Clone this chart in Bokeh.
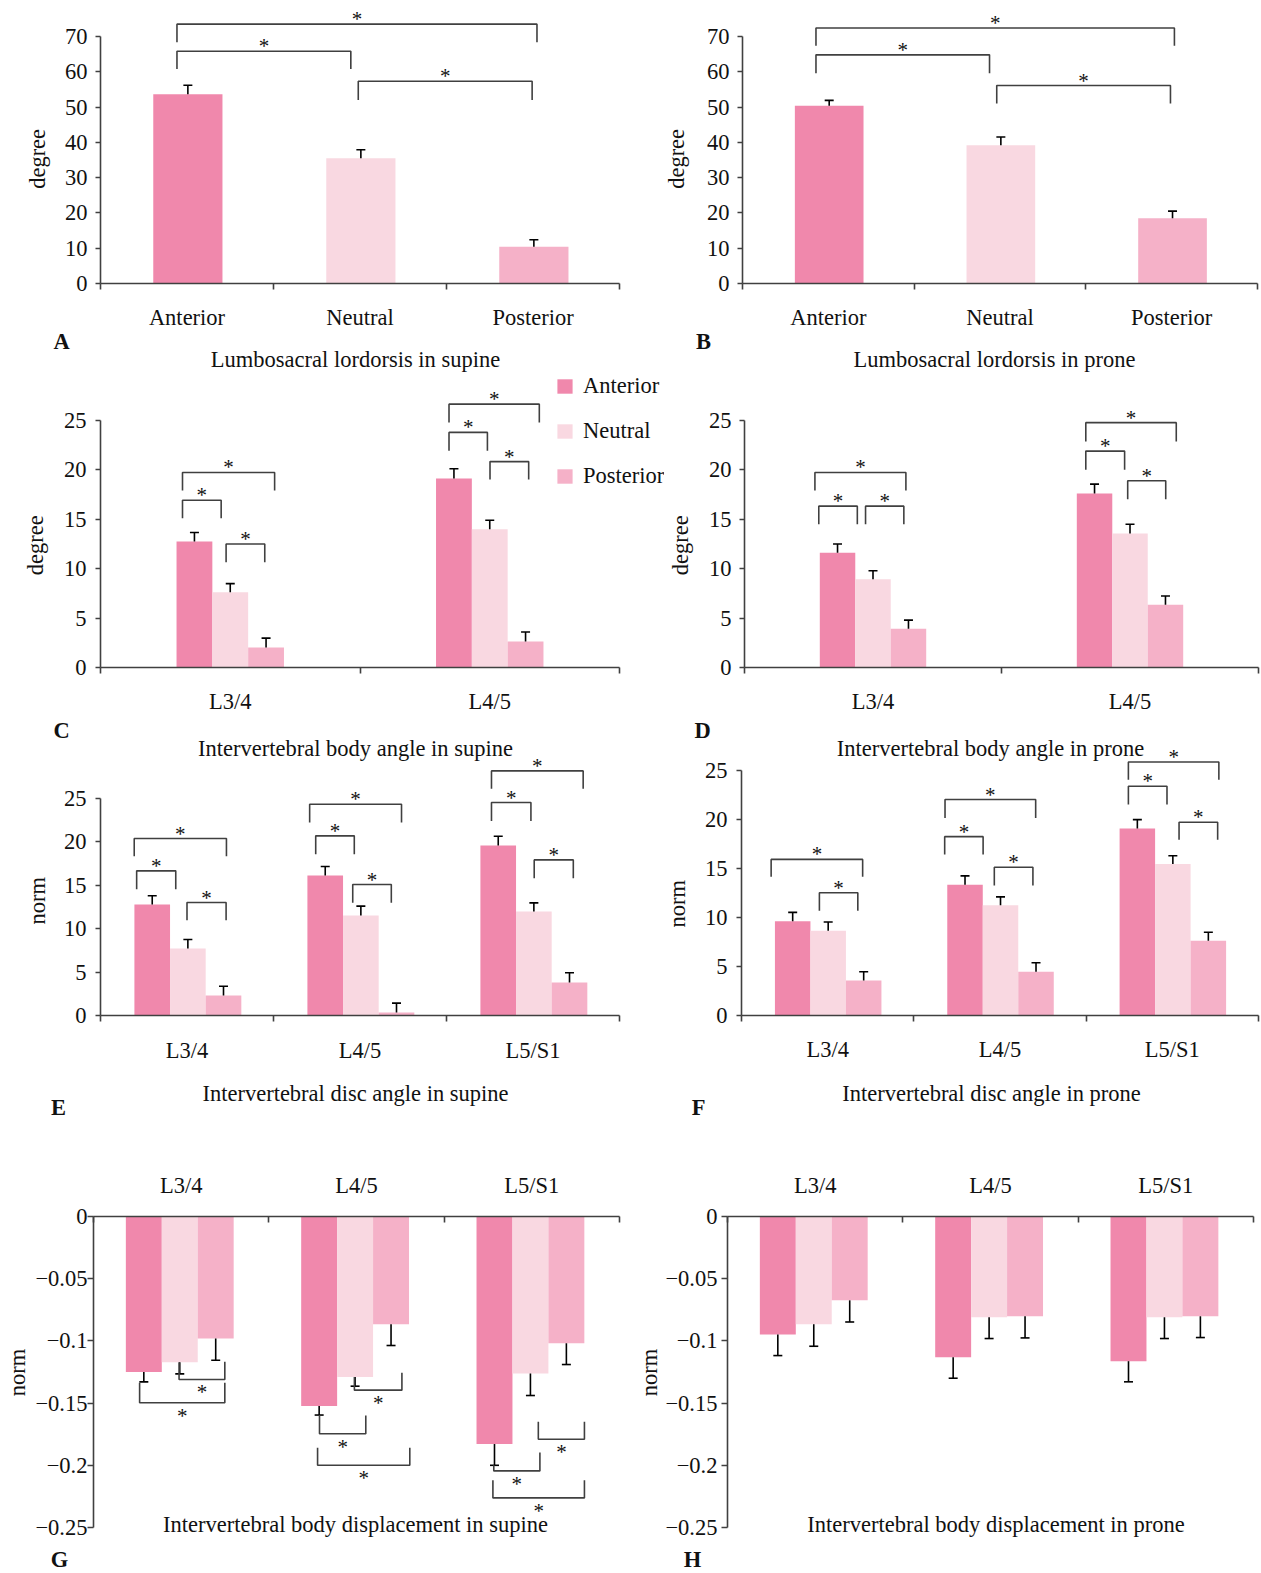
from bokeh.plotting import figure
from bokeh.models import Range1d, FixedTicker, Label, Legend, LegendItem
from bokeh.layouts import column, row
from bokeh.embed import file_html
from bokeh.resources import INLINE
from bokeh.core.properties import value

FONT = "Liberation Serif"
FS = "22.5px"
AXC = "#404040"
TXT = "#111111"
SERIES = ["Anterior", "Neutral", "Posterior"]
COLORS = ["#F088AC", "#F9D8E1", "#F5B1C8"]
NB = "\u00a0"

# ---------------- data ----------------
# significance brackets: (x_left, x_right, y_bar, y_left_end, y_right_end) in axis units
A_cats = ["Anterior", "Neutral", "Posterior"]
A_mean = [53.6, 35.5, 10.4]
A_sd = [2.6, 2.4, 2.0]
A_sig = [(0.442, 2.523, 73.5, 68.4, 68.4), (0.442, 1.447, 65.8, 60.8, 60.8),
         (1.49, 2.495, 57.3, 52.0, 52.0)]

B_cats = ["Anterior", "Neutral", "Posterior"]
B_mean = [50.4, 39.2, 18.5]
B_sd = [1.5, 2.3, 2.0]
B_sig = [(0.428, 2.516, 72.4, 67.4, 67.4), (0.428, 1.439, 64.8, 59.6, 59.6),
         (1.481, 2.493, 56.1, 51.0, 51.0)]

C_cats = ["L3/4", "L4/5"]
C_ant, C_ant_sd = [12.72, 19.1], [0.91, 0.97]
C_neu, C_neu_sd = [7.59, 13.97], [0.88, 0.91]
C_pos, C_pos_sd = [2.02, 2.63], [0.95, 0.95]
C_sig = [(0.316, 0.671, 19.7, 17.88, 17.88), (0.316, 0.465, 16.9, 15.08, 15.08),
         (0.484, 0.633, 12.48, 10.63, 10.63), (1.343, 1.691, 26.6, 24.76, 24.76),
         (1.343, 1.491, 23.75, 21.9, 21.9), (1.501, 1.65, 20.8, 19.0, 19.0)]

D_cats = ["L3/4", "L4/5"]
D_ant, D_ant_sd = [11.6, 17.58], [0.88, 0.94]
D_neu, D_neu_sd = [8.91, 13.53], [0.87, 0.94]
D_pos, D_pos_sd = [3.91, 6.34], [0.88, 0.88]
D_sig = [(0.274, 0.628, 19.7, 17.88, 17.88), (0.289, 0.439, 16.3, 14.47, 14.47),
         (0.471, 0.62, 16.3, 14.47, 14.47), (1.328, 1.68, 24.73, 22.84, 22.84),
         (1.328, 1.479, 21.86, 19.97, 19.97), (1.491, 1.639, 18.86, 17.0, 17.0)]

E_cats = ["L3/4", "L4/5", "L5/S1"]
E_ant, E_ant_sd = [12.77, 16.1, 19.56], [1.0, 1.04, 1.07]
E_neu, E_neu_sd = [7.71, 11.5, 11.96], [1.03, 1.08, 1.0]
E_pos, E_pos_sd = [2.30, 0.35, 3.8], [1.07, 1.07, 1.11]
E_sig = [(0.195, 0.728, 20.36, 18.33, 18.33), (0.209, 0.435, 16.64, 14.53, 14.53),
         (0.5, 0.726, 13.0, 10.97, 10.97), (1.209, 1.74, 24.31, 22.2, 22.2),
         (1.244, 1.467, 20.67, 18.56, 18.56), (1.458, 1.681, 15.07, 12.96, 12.96),
         (2.26, 2.79, 28.14, 26.1, 26.1), (2.26, 2.488, 24.5, 22.39, 22.39),
         (2.507, 2.733, 17.9, 15.8, 15.8)]

F_cats = ["L3/4", "L4/5", "L5/S1"]
F_ant, F_ant_sd = [9.61, 13.34, 19.09], [0.91, 0.91, 0.9]
F_neu, F_neu_sd = [8.64, 11.26, 15.46], [0.9, 0.84, 0.84]
F_pos, F_pos_sd = [3.56, 4.47, 7.63], [0.91, 0.91, 0.87]
F_sig = [(0.172, 0.703, 15.93, 14.15, 14.15), (0.452, 0.675, 12.53, 10.69, 10.69),
         (1.181, 1.707, 22.04, 20.16, 20.16), (1.179, 1.402, 18.25, 16.43, 16.43),
         (1.467, 1.691, 15.12, 13.27, 13.27), (2.245, 2.77, 25.87, 24.06, 24.06),
         (2.245, 2.469, 23.39, 21.54, 21.54), (2.539, 2.763, 19.72, 17.94, 17.94)]

G_cats = ["L3/4", "L4/5", "L5/S1"]
G_ant, G_ant_sd = [-0.1251, -0.1524, -0.1829], [0.0078, 0.0072, 0.0171]
G_neu, G_neu_sd = [-0.1171, -0.1291, -0.1262], [0.0094, 0.0073, 0.0177]
G_pos, G_pos_sd = [-0.0981, -0.0866, -0.1019], [0.0174, 0.0171, 0.0171]
G_sig = [(0.488, 0.749, -0.131, -0.1171, -0.1168), (0.263, 0.749, -0.1497, -0.1337, -0.1337),
         (1.488, 1.759, -0.1396, -0.1291, -0.1257), (1.289, 1.553, -0.1746, -0.1596, -0.16),
         (1.278, 1.804, -0.2, -0.1858, -0.1858), (2.537, 2.8, -0.1791, -0.165, -0.165),
         (2.283, 2.546, -0.2045, -0.2, -0.1898), (2.278, 2.8, -0.2262, -0.212, -0.212)]

H_cats = ["L3/4", "L4/5", "L5/S1"]
H_ant, H_ant_sd = [-0.0949, -0.1131, -0.1163], [0.0169, 0.0169, 0.0166]
H_neu, H_neu_sd = [-0.0866, -0.081, -0.081], [0.0177, 0.0171, 0.0171]
H_pos, H_pos_sd = [-0.0674, -0.0802, -0.0802], [0.0174, 0.0174, 0.0171]
H_sig = []

deg_ticks_70 = [0, 10, 20, 30, 40, 50, 60, 70]
deg_ticks_25 = [0, 5, 10, 15, 20, 25]
disp_ticks = [0, -0.05, -0.1, -0.15, -0.2, -0.25]
disp_labels = ["0", "\u22120.05", "\u22120.1", "\u22120.15", "\u22120.2", "\u22120.25"]

TITLES = {
    "A": "Lumbosacral lordorsis in supine", "B": "Lumbosacral lordorsis in prone",
    "C": "Intervertebral body angle in supine", "D": "Intervertebral body angle in prone",
    "E": "Intervertebral disc angle in supine", "F": "Intervertebral disc angle in prone",
    "G": "Intervertebral body displacement in supine", "H": "Intervertebral body displacement in prone",
}


def clean(p):
    p.outline_line_color = None
    p.xgrid.visible = False
    p.ygrid.visible = False


def build(canvas, frame, axx, yref, cats, yticks, ylabels, ylabel, series, sds, sig,
          bar_w, center=0.5, single=False, top_axis=False, s1=8, s2=14,
          tick_out=5, xstand=15, inverted=False):
    cl, ct, cr, cb = canvas
    fl, ft, fr, fb = frame
    al, ar = axx
    (v0, p0), (v1, p1) = yref
    k = (p1 - p0) / (v1 - v0)
    n = len(cats)

    def yv(py):
        return v0 + (py - p0) / k

    def xv(px):
        return (px - al) / (ar - al) * n

    p = figure(width=cr - cl, height=cb - ct, x_range=Range1d(xv(fl), xv(fr)),
               y_range=Range1d(yv(fb), yv(ft)),
               min_border_left=fl - cl, min_border_right=cr - fr,
               min_border_top=ft - ct, min_border_bottom=cb - fb,
               output_backend="svg", toolbar_location=None, tools="", title=None,
               x_axis_location="above" if top_axis else "below")
    clean(p)

    renderers = []
    if single:
        xs = [i + center for i in range(n)]
        p.vbar(x=xs, top=series, bottom=0, width=bar_w, fill_color=COLORS[:n], line_color=None)
        ends = [m + s for m, s in zip(series, sds)]
        p.segment(x0=xs, y0=series, x1=xs, y1=ends, line_color="black", line_width=1.6)
        p.scatter(x=xs, y=ends, marker="dash", size=9, line_color="black", line_width=1.6)
    else:
        for j, (vals, sd) in enumerate(zip(series, sds)):
            xs = [i + center + (j - 1) * bar_w for i in range(n)]
            r = p.vbar(x=xs, top=vals, bottom=0, width=bar_w, fill_color=COLORS[j], line_color=None)
            renderers.append(r)
            ends = [m + s if m >= 0 else m - s for m, s in zip(vals, sd)]
            p.segment(x0=xs, y0=vals, x1=xs, y1=ends, line_color="black", line_width=1.6)
            p.scatter(x=xs, y=ends, marker="dash", size=9, line_color="black", line_width=1.6)

    if sig:
        p.multi_line(xs=[[a, a, b, b] for a, b, _, _, _ in sig],
                     ys=[[yl, yb, yb, yr] for _, _, yb, yl, yr in sig],
                     line_color=AXC, line_width=1.6)
        p.text(x=[(a + b) / 2 for a, b, _, _, _ in sig], y=[s[2] for s in sig],
               text=["*"] * len(sig), text_font=value(FONT), text_font_size=value("21px"),
               text_align="center", text_baseline="middle",
               y_offset=13 if inverted else -5, text_color=TXT)

    xa = p.xaxis[0]
    ya = p.yaxis[0]
    for ax in (xa, ya):
        ax.axis_line_color = AXC
        ax.axis_line_width = 1.6
        ax.major_tick_line_color = AXC
        ax.major_tick_line_width = 1.6
        ax.minor_tick_line_color = AXC
        ax.minor_tick_line_width = 1.6
        ax.major_label_text_font = FONT
        ax.major_label_text_font_size = FS
        ax.major_label_text_color = TXT
        ax.axis_label_text_font = FONT
        ax.axis_label_text_font_size = FS
        ax.axis_label_text_font_style = "normal"
        ax.axis_label_text_color = TXT
    xa.ticker = FixedTicker(ticks=[i + 0.5 for i in range(n)], minor_ticks=list(range(n + 1)))
    xa.major_label_overrides = {i + 0.5: c for i, c in enumerate(cats)}
    xa.bounds = (0, n)
    xa.major_tick_out = 0
    xa.major_tick_in = 0
    if top_axis:
        xa.minor_tick_in = 6
        xa.minor_tick_out = 0
    else:
        xa.minor_tick_out = 6
        xa.minor_tick_in = 0
    xa.major_label_standoff = xstand

    ya.ticker = FixedTicker(ticks=yticks)
    ya.major_label_overrides = {t: l for t, l in zip(yticks, ylabels)}
    ya.bounds = (min(yticks), max(yticks))
    ya.major_tick_out = tick_out
    ya.major_tick_in = 0
    ya.minor_tick_out = 0
    ya.minor_tick_in = 0
    ya.axis_label = ylabel
    ya.major_label_standoff = s1
    ya.axis_label_standoff = s2
    return p, xv, yv, renderers


def make_label(x, y, text, bold=False):
    return Label(x=x, y=y, text=text, text_align="center", text_baseline="middle",
                 text_font=FONT, text_font_size=FS,
                 text_font_style="bold" if bold else "normal", text_color=TXT)


def put(panel, px, py, text, bold=False, place="center"):
    panel[0].add_layout(make_label(panel[1](px), panel[2](py), text, bold), place)


def strip(top, bottom, items, width=1260):
    p = figure(width=width, height=bottom - top, x_range=Range1d(0, width),
               y_range=Range1d(bottom, top), min_border_left=0, min_border_right=0,
               min_border_top=0, min_border_bottom=0, x_axis_location=None,
               y_axis_location=None, output_backend="svg", toolbar_location=None,
               tools="", title=None)
    clean(p)
    for px, py, text, bold in items:
        p.add_layout(make_label(px, py, text, bold))
    return p


W = 1260
A = build((0, 0, 636, 372), (100, 0, 636, 283), (100, 619), ((0, 283), (70, 36)), A_cats,
          deg_ticks_70, [str(t) for t in deg_ticks_70], "degree" + NB * 6, A_mean, A_sd, A_sig,
          0.4, center=0.505, single=True, s1=8, s2=12, xstand=15)
B = build((636, 0, W, 372), (742, 0, W, 283), (742, 1257), ((0, 283), (70, 36)), B_cats,
          deg_ticks_70, [str(t) for t in deg_ticks_70], "degree" + NB * 6, B_mean, B_sd, B_sig,
          0.4, center=0.505, single=True, s1=8, s2=15, xstand=15)
C = build((0, 372, 664, 716), (100, 372, 664, 667), (100, 619), ((0, 667), (25, 419.5)), C_cats,
          deg_ticks_25, [str(t) for t in deg_ticks_25], "degree" + NB * 9,
          [C_ant, C_neu, C_pos], [C_ant_sd, C_neu_sd, C_pos_sd], C_sig, 0.138,
          s1=9, s2=13, xstand=15)
D = build((664, 372, W, 716), (741, 372, W, 667), (741, 1258), ((0, 667), (25, 419.5)), D_cats,
          deg_ticks_25, [str(t) for t in deg_ticks_25], "degree" + NB * 9,
          [D_ant, D_neu, D_pos], [D_ant_sd, D_neu_sd, D_pos_sd], D_sig, 0.138,
          s1=8, s2=13, xstand=15)
E = build((0, 716, 636, 1068), (100, 735, 636, 1015), (100, 619), ((0, 1015), (25, 797.7)), E_cats,
          deg_ticks_25, [str(t) for t in deg_ticks_25], "norm" + NB * 9,
          [E_ant, E_neu, E_pos], [E_ant_sd, E_neu_sd, E_pos_sd], E_sig, 0.206,
          center=0.505, s1=9, s2=11, xstand=16)
F = build((636, 716, W, 1068), (741, 735, W, 1019), (741, 1258), ((0, 1019), (25, 770.5)), F_cats,
          deg_ticks_25, [str(t) for t in deg_ticks_25], "norm" + NB * 10,
          [F_ant, F_neu, F_pos], [F_ant_sd, F_neu_sd, F_pos_sd], F_sig, 0.206,
          center=0.503, s1=9, s2=12, xstand=15)
G = build((0, 1168, 634, 1545), (93, 1216, 634, 1545), (93, 619), ((0, 1216), (-0.25, 1527)), G_cats,
          disp_ticks, disp_labels, NB * 3 + "norm",
          [G_ant, G_neu, G_pos], [G_ant_sd, G_neu_sd, G_pos_sd], G_sig, 0.205,
          center=0.492, top_axis=True, s1=0, s2=2, tick_out=6, xstand=19, inverted=True)
H = build((634, 1168, W, 1545), (726, 1216, W, 1545), (726, 1253), ((0, 1216), (-0.25, 1527)), H_cats,
          disp_ticks, disp_labels, NB * 3 + "norm",
          [H_ant, H_neu, H_pos], [H_ant_sd, H_neu_sd, H_pos_sd], H_sig, 0.205,
          center=0.492, top_axis=True, s1=4, s2=0, tick_out=6, xstand=19, inverted=True)

# legend (inside panel C's frame)
C[0].add_layout(Legend(items=[LegendItem(label=SERIES[j], renderers=[C[3][j]]) for j in range(3)],
                       location=(455, 178), orientation="vertical", padding=0, margin=0,
                       spacing=19, glyph_width=19, glyph_height=18, label_height=25,
                       label_standoff=9, border_line_color=None, background_fill_alpha=0,
                       label_text_font=FONT, label_text_font_size=FS, label_text_color=TXT))

# panel letters and titles
put(A, 61, 340.5, "A", bold=True, place="left")
put(A, 355, 358.6, TITLES["A"], place="below")
put(B, 703, 340.5, "B", bold=True, place="left")
put(B, 994, 358.6, TITLES["B"], place="below")
put(E, 355, 748, TITLES["C"])
put(F, 990, 748, TITLES["D"])
put(E, 61, 730, "C", bold=True, place="left")
put(F, 702, 730, "D", bold=True, place="left")
put(G, 355, 1524, TITLES["G"])
put(H, 995, 1524, TITLES["H"])

S3 = strip(1068, 1168, [(355, 1092.6, TITLES["E"], False), (991, 1092.6, TITLES["F"], False),
                        (58, 1107, "E", True), (698, 1107, "F", True)])
S4 = strip(1545, 1572, [(59, 1559, "G", True), (692, 1559, "H", True)])

layout = column(row(A[0], B[0]), row(C[0], D[0]), row(E[0], F[0]), S3,
                row(G[0], H[0]), S4)
open("out.html", "w").write(file_html(layout, INLINE, title="Lumbar spine angles"))
